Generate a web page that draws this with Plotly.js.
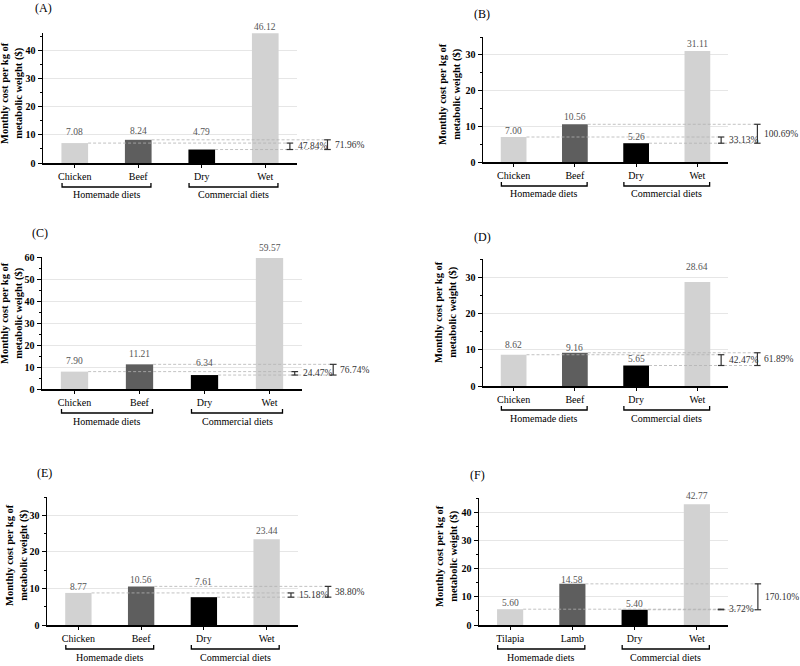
<!DOCTYPE html>
<html>
<head>
<meta charset="utf-8">
<script src="https://cdn.plot.ly/plotly-3.0.1.min.js"></script>
<style>html,body{margin:0;padding:0;background:#fff;}#chart{width:800px;height:666px;}</style>
</head>
<body>
<div id="chart"></div>
<script>
// ---- data ----
const panelTags = ['(A)', '(B)', '(C)', '(D)', '(E)', '(F)'];
const catsA = ['Chicken', 'Beef', 'Dry', 'Wet'];
const catsB = ['Chicken', 'Beef', 'Dry', 'Wet'];
const catsC = ['Chicken', 'Beef', 'Dry', 'Wet'];
const catsD = ['Chicken', 'Beef', 'Dry', 'Wet'];
const catsE = ['Chicken', 'Beef', 'Dry', 'Wet'];
const catsF = ['Tilapia', 'Lamb', 'Dry', 'Wet'];
const valsA = [7.08, 8.24, 4.79, 46.12];
const valsB = [7.00, 10.56, 5.26, 31.11];
const valsC = [7.90, 11.21, 6.34, 59.57];
const valsD = [8.62, 9.16, 5.65, 28.64];
const valsE = [8.77, 10.56, 7.61, 23.44];
const valsF = [5.60, 14.58, 5.40, 42.77];
const diffLow = ['47.84%', '33.13%', '24.47%', '42.47%', '15.18%', '3.72%'];
const diffHigh = ['71.96%', '100.69%', '76.74%', '61.89%', '38.80%', '170.10%'];
const groupNames = ['Homemade diets', 'Commercial diets'];
const yMax = [46.2, 35, 60, 35, 35, 45];
const yTitle = 'Monthly cost per kg of<br>metabolic weight ($)';

const allCats = [catsA, catsB, catsC, catsD, catsE, catsF];
const allVals = [valsA, valsB, valsC, valsD, valsE, valsF];

// ---- layout geometry (pixels) ----
const W = 800, H = 666;
const boxes = [ // x0, x1, yTop, yBottom
  [43, 297, 33, 163],
  [483, 728, 37, 162],
  [42, 302, 257, 389],
  [483, 728, 259, 386],
  [47, 298, 497, 625],
  [479, 728, 498, 625]
];
// value-label lift above each bar top (px)
const labelLift = [
  [11, 9, 18, 6],
  [6, 7, 6, 7],
  [11, 10, 12, 10],
  [10, 5, 6, 15],
  [6, 6, 15, 8],
  [6, 4, 6, 8]
];
const tagPos = [[33, 8], [472, 14], [30, 233], [472, 237], [35, 473], [468, 475]];
const titlePos = [[12, 93], [450, 94], [12, 313], [446, 312], [17, 555], [447, 556]];
const barColors = ['#d2d2d2', '#5e5e5e', '#000000', '#d2d2d2'];
const FONT = 'Liberation Serif';
const barW = 0.42;
const E1 = 0.972, E2 = 1.12, T1 = 0.995, T2 = 1.14, cap = 0.013;

const data = [];
const layout = {
  width: W, height: H,
  margin: {l: 0, r: 0, t: 0, b: 0},
  paper_bgcolor: '#fff', plot_bgcolor: '#fff',
  showlegend: false,
  font: {family: FONT, color: '#000'},
  shapes: [], annotations: []
};

for (let i = 0; i < 6; i++) {
  const n = i === 0 ? '' : String(i + 1);
  const xa = 'x' + n, ya = 'y' + n;
  const [x0, x1, yt, yb] = boxes[i];
  const hpx = yb - yt;
  const cats = allCats[i], vals = allVals[i];

  data.push({
    type: 'bar', x: cats, y: vals, xaxis: xa, yaxis: ya,
    width: barW,
    marker: {color: barColors, line: {width: 0}},
    hoverinfo: 'skip'
  });

  // value labels
  cats.forEach((c, k) => {
    layout.annotations.push({xref: xa, yref: ya, x: c, y: vals[k], yshift: labelLift[i][k],
      xanchor: 'center', yanchor: 'middle', text: vals[k].toFixed(2), showarrow: false,
      font: {family: FONT, size: 9.5, color: '#555'}});
  });

  layout['xaxis' + n] = {
    domain: [x0 / W, x1 / W], anchor: ya,
    type: 'category', range: [-0.5, 3.5], fixedrange: true,
    showline: true, linecolor: '#000', linewidth: 1.5,
    ticks: 'outside', ticklen: 3, tickcolor: '#000', tickwidth: 1,
    tickfont: {family: FONT, size: 10, color: '#000'},
    showgrid: false, zeroline: false
  };
  layout['yaxis' + n] = {
    domain: [1 - yb / H, 1 - yt / H], anchor: xa,
    range: [0, yMax[i]], dtick: 10, fixedrange: true,
    showline: true, linecolor: '#000', linewidth: 1.5,
    ticks: 'outside', ticklen: 4, tickcolor: '#000', tickwidth: 1,
    minor: {dtick: 5, ticks: 'outside', ticklen: 2, tickcolor: '#000', showgrid: false},
    tickfont: {family: FONT, size: 10, color: '#000', weight: 'bold'},
    showgrid: true, gridcolor: '#e6e6e6', gridwidth: 1, zeroline: false
  };

  // y-axis title
  layout.annotations.push({xref: 'paper', yref: 'paper', x: titlePos[i][0] / W, y: 1 - titlePos[i][1] / H,
    xanchor: 'center', yanchor: 'middle', textangle: -90, text: yTitle, showarrow: false,
    font: {family: FONT, size: 10.5, color: '#000', weight: 'bold'}});

  const xd = xa + ' domain', yd = ya + ' domain';
  const edge = k => (k + barW / 2 + 0.5) / 4;
  const dash = {color: '#b2b2b2', width: 0.8, dash: '3px,2px'};
  // dashed reference lines
  layout.shapes.push({type: 'line', layer: 'above', xref: xd, yref: ya, x0: edge(0), x1: E1, y0: vals[0], y1: vals[0], line: dash});
  layout.shapes.push({type: 'line', layer: 'above', xref: xd, yref: ya, x0: edge(1), x1: E2, y0: vals[1], y1: vals[1], line: dash});
  layout.shapes.push({type: 'line', layer: 'above', xref: xd, yref: ya, x0: edge(2), x1: E2, y0: vals[2], y1: vals[2], line: dash});
  // difference brackets
  const eb = {color: '#333', width: 1.2};
  [[E1, vals[0]], [E2, vals[1]]].forEach(([ex, top]) => {
    layout.shapes.push({type: 'line', xref: xd, yref: ya, x0: ex, x1: ex, y0: vals[2], y1: top, line: eb});
    layout.shapes.push({type: 'line', xref: xd, yref: ya, x0: ex - cap, x1: ex + cap, y0: vals[2], y1: vals[2], line: eb});
    layout.shapes.push({type: 'line', xref: xd, yref: ya, x0: ex - cap, x1: ex + cap, y0: top, y1: top, line: eb});
  });
  layout.annotations.push({xref: xd, yref: ya, x: T1, y: (vals[0] + vals[2]) / 2, xanchor: 'left', yanchor: 'middle',
    text: diffLow[i], showarrow: false, font: {family: FONT, size: 9.5, color: '#333'}});
  layout.annotations.push({xref: xd, yref: ya, x: T2, y: (vals[1] + vals[2]) / 2, xanchor: 'left', yanchor: 'middle',
    text: diffHigh[i], showarrow: false, font: {family: FONT, size: 9.5, color: '#333'}});

  // group brackets under the categories
  const by = -24 / hpx, bu = -20 / hpx;
  [[-0.2, 1.2], [1.8, 3.2]].forEach(([a, b], g) => {
    layout.shapes.push({type: 'path', xref: xa, yref: yd,
      path: `M${a},${bu} L${a},${by} L${b},${by} L${b},${bu}`,
      line: {color: '#000', width: 1.3}});
    layout.annotations.push({xref: xa, yref: yd, x: (a + b) / 2, y: -32 / hpx, xanchor: 'center', yanchor: 'middle',
      text: groupNames[g], showarrow: false, font: {family: FONT, size: 10, color: '#000'}});
  });

  // panel tag
  layout.annotations.push({xref: 'paper', yref: 'paper', x: tagPos[i][0] / W, y: 1 - tagPos[i][1] / H,
    xanchor: 'left', yanchor: 'middle', text: panelTags[i], showarrow: false,
    font: {family: FONT, size: 12, color: '#000'}});
}

Plotly.newPlot('chart', data, layout, {displayModeBar: false, staticPlot: true});
</script>
</body>
</html>
